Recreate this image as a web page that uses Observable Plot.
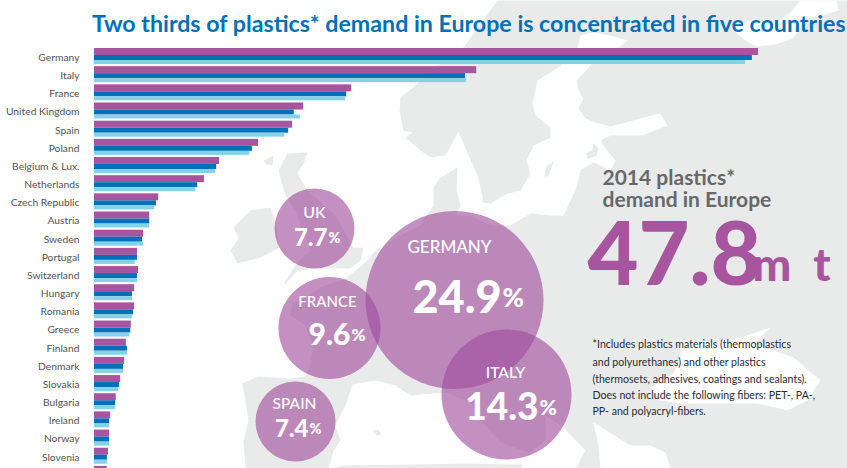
<!DOCTYPE html>
<html>
<head>
<meta charset="utf-8">
<script src="https://cdn.jsdelivr.net/npm/d3@7"></script>
<script src="https://cdn.jsdelivr.net/npm/@observablehq/plot@0.6"></script>
<style>
html,body{margin:0;padding:0;background:#fff;overflow:hidden}
#page{position:relative;width:847px;height:468px;overflow:hidden;font-family:Lato,sans-serif}
#back{position:absolute;left:0;top:0}
#title{position:relative;margin:0;height:40px;padding-left:92px;box-sizing:border-box;font:700 23.2px/46px Lato,sans-serif;color:#0070b8;white-space:nowrap}
#bars{position:relative;height:428px;overflow:hidden}
svg{background:transparent!important}
</style>
</head>
<body>
<div id="page">
  <div id="back"></div>
  <h1 id="title">Two thirds of plastics* demand in Europe is concentrated in five countries</h1>
  <div id="bars"></div>
</div>
<script>
// ---- Data (million tonnes; 2014 matches the bubble shares) ----
const countries = ["Germany","Italy","France","United Kingdom","Spain","Poland","Belgium & Lux.","Netherlands","Czech Republic","Austria","Sweden","Portugal","Switzerland","Hungary","Romania","Greece","Finland","Denmark","Slovakia","Bulgaria","Ireland","Norway","Slovenia","Croatia"];
const demand2014 = [11.9,6.85,4.61,3.75,3.55,2.94,2.24,1.97,1.15,0.99,0.88,0.77,0.79,0.72,0.72,0.66,0.57,0.54,0.47,0.39,0.29,0.27,0.25,0.23];
const demand2013 = [11.79,6.65,4.52,3.58,3.48,2.83,2.19,1.85,1.11,0.99,0.86,0.77,0.77,0.68,0.70,0.65,0.59,0.52,0.45,0.38,0.27,0.27,0.23,0.22];
const demand2012 = [11.67,6.67,4.50,3.69,3.41,2.78,2.17,1.81,1.08,0.99,0.88,0.73,0.77,0.68,0.68,0.63,0.59,0.52,0.43,0.38,0.27,0.27,0.23,0.22];
const labelledCountries = countries.slice(0, 23);
const bubbleNames = ["GERMANY","ITALY","FRANCE","UK","SPAIN"];
const bubbleShares = [24.9,14.3,9.6,7.7,7.4];
const colors = {y2014:"#a7559e", y2013:"#0070b8", y2012:"#85d2e6", land:"#e9eaea", bubble:"#a04c9c"};

// ---- Bars ----
const rows = countries.map((country,i)=>({country,y2014:demand2014[i],y2013:demand2013[i],y2012:demand2012[i]}));
const rowH = 18.17;
const bars = Plot.plot({
  width:847, height:428, marginLeft:94, marginRight:89, marginTop:0, marginBottom:0,
  style:{background:"transparent",overflow:"hidden"},
  x:{domain:[0,11.9],range:[94,758],axis:null},
  y:{type:"band",domain:countries,range:[8,8+24*rowH],padding:0,round:false,axis:null},
  marks:[
    Plot.barX(rows,{y:"country",x:"y2014",fill:colors.y2014,insetTop:0,insetBottom:rowH-7}),
    Plot.barX(rows,{y:"country",x:"y2013",fill:colors.y2013,insetTop:7,insetBottom:rowH-12}),
    Plot.barX(rows,{y:"country",x:"y2012",fill:colors.y2012,insetTop:12,insetBottom:rowH-16}),
    Plot.ruleX([0],{stroke:"#8c8c8c",strokeWidth:2,dx:-1,y1:"Germany",y2:"Germany"}),
    Plot.axisY({ticks:labelledCountries,tickSize:0,tickPadding:15,label:null,fontSize:10.3,color:"#555",fontFamily:"Lato,sans-serif",anchor:"left"})
  ]
});
document.getElementById("bars").append(bars);
// the baseline rule spans the whole row stack
bars.querySelectorAll("line").forEach(l=>{l.setAttribute("y1",8);l.setAttribute("y2",428);});

// ---- Decorative map traced in page pixels ----
const poly = (pts)=>({type:"Feature",geometry:{type:"Polygon",coordinates:[[...pts,pts[0]]]}});
const land = [
  // mainland, from the Norwegian coast around the Baltic to Iberia
  [[497,0],[847,0],[847,468],[245,468],[243,440],[248,420],[242,383],[257,376],[287,378],[305,376],[310,365],[312,345],[305,325],[290,315],[292,303],[305,297],[320,287],[345,278],[365,262],[375,250],[400,235],[420,225],[433,205],[433,187],[440,177],[457,167],[456,190],[460,205],[455,215],[470,215],[490,225],[510,225],[530,213],[550,215],[563,215],[570,200],[575,190],[580,170],[593,162],[600,165],[610,170],[615,160],[605,148],[600,140],[610,135],[642,135],[650,132],[667,125],[660,113],[640,118],[610,126],[595,122],[585,118],[578,108],[583,98],[578,90],[576,80],[590,65],[600,54],[620,46],[627,40],[610,35],[592,32],[580,35],[575,55],[553,70],[537,80],[532,103],[535,115],[550,127],[550,137],[533,145],[526,160],[530,173],[520,190],[507,193],[490,203],[482,202],[482,195],[477,175],[468,155],[458,131],[445,155],[430,157],[420,150],[405,137],[412,132],[403,130],[399,110],[400,97],[415,85],[440,62],[463,47]],
  // Great Britain
  [[278,170],[287,153],[307,152],[303,163],[297,173],[307,190],[335,215],[353,247],[363,247],[360,260],[350,268],[317,268],[297,270],[285,283],[292,284],[283,283],[297,262],[310,250],[300,225],[295,210],[285,195]],
  // Ireland
  [[233,227],[250,210],[270,207],[276,225],[278,248],[260,257],[237,263],[230,250],[238,238]],
  // Hebrides, Balearics, Gotland, Saaremaa
  [[263,160],[273,155],[272,165],[265,164]],
  [[372,430],[378,429],[381,434],[376,435]],
  [[553,161],[548,175],[544,176],[546,166]],
  [[593,143],[598,148],[596,155],[587,158],[586,153],[592,150]]
];
const seas = [
  // Mediterranean
  [[352,384],[375,380],[395,385],[410,395],[445,392],[470,402],[482,422],[500,442],[528,452],[524,464],[510,464],[470,463],[410,464],[345,465],[328,468],[333,450],[340,440],[335,425],[345,405],[350,390]],
  // Adriatic and Ionian
  [[545,415],[563,427],[585,450],[575,468],[520,468],[530,452],[545,440]],
  // Aegean
  [[593,422],[617,437],[630,445],[650,445],[665,452],[670,468],[600,468],[598,445]],
  // Black Sea
  [[680,340],[707,343],[740,337],[770,327],[753,343],[793,357],[820,380],[807,400],[787,410],[757,403],[713,403],[680,403],[660,400],[650,387],[673,373],[680,357]],
  // White Sea
  [[800,0],[836,0],[838,10],[822,15],[805,18],[800,28],[792,38],[775,44],[755,46],[745,40],[733,30],[728,25],[750,20],[775,22],[790,12]]
];
const islandsOnSea = land.slice(4);

// ---- Layout of bubbles and text ----
const bubbleXY = {GERMANY:[454,299.5],ITALY:[506,394],FRANCE:[329,327.5],UK:[314,228],SPAIN:[295,421]};
const bubbleR = {type:"linear",domain:[7.4,7.7,9.6,14.3,24.9],range:[40,40,51,65,89]};
const bubbles = bubbleNames.map((name,i)=>({name,share:bubbleShares[i],x:bubbleXY[name][0],y:bubbleXY[name][1]}));
const nameText = [["GERMANY",449,247,17],["ITALY",505,373,15.5],["FRANCE",327,302,15],["UK",314,212,16],["SPAIN",294,404,15.5]];
const valueText = [[bubbleShares[0],501,298,45,26],[bubbleShares[1],538,408,37,21],[bubbleShares[2],350,335,30,17],[bubbleShares[3],327,238,24,14.5],[bubbleShares[4],308,429,24,14.5]];
const txt = (d,o)=>Plot.text(d,{x:"0",y:"1",text:"t",fontFamily:"Lato,sans-serif",lineAnchor:"middle",...o});

const back = Plot.plot({
  width:847, height:468, margin:0,
  style:{background:"transparent"},
  projection:"identity",
  r:bubbleR,
  marks:[
    Plot.geo(land.slice(0,1).concat(land.slice(1)).map(poly),{fill:colors.land}),
    Plot.geo(seas.map(poly),{fill:"#fff"}),
    Plot.geo(islandsOnSea.map(poly),{fill:colors.land}),
    Plot.dot(bubbles,{x:"x",y:"y",r:"share",fill:colors.bubble,fillOpacity:0.62}),
    ...nameText.map(([t,x,y,s])=>Plot.text([t],{x:[x],y:[y],text:[t],fill:"#fff",fontSize:s,fontWeight:500,fontFamily:"Lato,sans-serif",textAnchor:"middle"})),
    ...valueText.map(([v,x,y,s,p])=>Plot.text([v],{x:[x],y:[y],text:[v.toFixed(1)],fill:"#fff",fontSize:s,fontWeight:900,fontFamily:"Lato,sans-serif",textAnchor:"end"})),
    ...valueText.map(([v,x,y,s,p])=>Plot.text(["%"],{x:[x+1],y:[y],text:["%"],fill:"#fff",fontSize:p,fontWeight:900,fontFamily:"Lato,sans-serif",textAnchor:"start"})),
    Plot.text(["2014 plastics*"],{x:[602],y:[178],text:["2014 plastics*"],fill:"#67686b",fontSize:21,fontWeight:700,fontFamily:"Lato,sans-serif",textAnchor:"start"}),
    Plot.text(["demand in Europe"],{x:[602],y:[200],text:["demand in Europe"],fill:"#67686b",fontSize:21,fontWeight:700,fontFamily:"Lato,sans-serif",textAnchor:"start"}),
    Plot.text(["47.8"],{x:[587],y:[256],text:["47.8"],fill:colors.y2014,fontSize:88,fontWeight:900,fontFamily:"Lato,sans-serif",textAnchor:"start"}),
    Plot.text(["m t"],{x:[752],y:[266],text:["m  t"],fill:colors.y2014,fontSize:46,fontWeight:900,fontFamily:"Lato,sans-serif",textAnchor:"start"}),
    ...["*Includes plastics materials (thermoplastics","and polyurethanes) and other plastics","(thermosets, adhesives, coatings and sealants).","Does not include the following fibers: PET-, PA-,","PP- and polyacryl-fibers."].map((t,i)=>
      Plot.text([t],{x:[592],y:[[344,362,379,395,411][i]],text:[t],fill:"#2b2b33",fontSize:10.6,fontFamily:"Lato,sans-serif",textAnchor:"start"}))
  ]
});
document.getElementById("back").append(back);
</script>
</body>
</html>
